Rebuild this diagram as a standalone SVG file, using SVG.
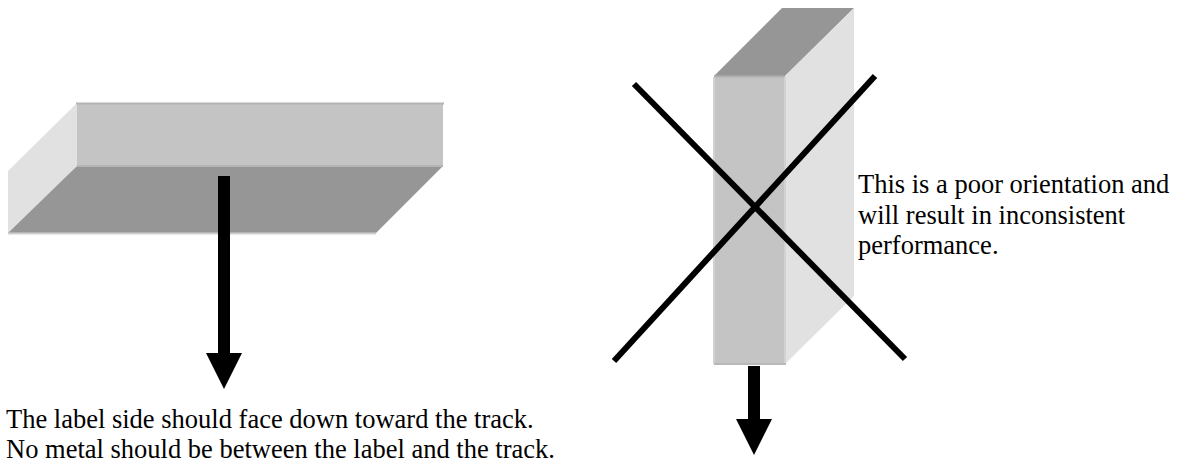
<svg xmlns="http://www.w3.org/2000/svg" width="1180" height="459" viewBox="0 0 1180 459">
<style>
text{font-family:"Liberation Serif","Times New Roman",serif;font-size:26.5px;fill:#000}
.front{fill:#c4c4c4}
.side{fill:#e1e1e1}
.dark{fill:#969696}
.edge{fill:none;stroke-width:2}
.x{stroke:#000;stroke-width:6;fill:none}
.arrow{fill:#000}
</style>
<rect width="1180" height="459" fill="#fff"/>
<g id="flat-box">
<polygon class="side" points="8,171 77,103 77,166 8,233"/>
<polygon class="dark" points="8,233 77,166 443,166 376,233"/>
<rect class="front" x="77" y="103" width="366" height="63"/>
<path class="edge" stroke="#b4b4b4" d="M76,103.500H444M77,166H443"/>
<path class="edge" stroke="#cfcfcf" d="M8,233.500H376"/>
</g>
<g id="upright-box">
<polygon class="dark" points="714,76 782,8 854,8 785,76"/>
<polygon class="side" points="785,76 854,8 854,296 785,364"/>
<rect class="front" x="714" y="76" width="71" height="288"/>
<path class="edge" stroke="#b0b0b0" d="M714,76.500H785"/>
<path class="edge" stroke="#d2d2d2" d="M714,77V364M785,77V364"/>
<path class="edge" stroke="#b8b8b8" d="M714,364H786"/>
</g>
<g id="connectors">
<polygon id="arrow-left" class="arrow" points="218,176 230,176 230,353 242,353 224,389 206,353 218,353"/>
<polygon id="arrow-right" class="arrow" points="748,366 760,366 760,419 772,419 754,455 736,419 748,419"/>
<line class="x" x1="634" y1="84" x2="905" y2="359"/>
<line class="x" x1="875" y1="76" x2="614" y2="361"/>
</g>
<g id="text-left">
<text x="6" y="428">The label side should face down toward the track.</text>
<text x="6" y="458">No metal should be between the label and the track.</text>
</g>
<g id="text-right">
<text x="858" y="193">This is a poor orientation and</text>
<text x="858" y="223.500">will result in inconsistent</text>
<text x="858" y="254">performance.</text>
</g>
</svg>
